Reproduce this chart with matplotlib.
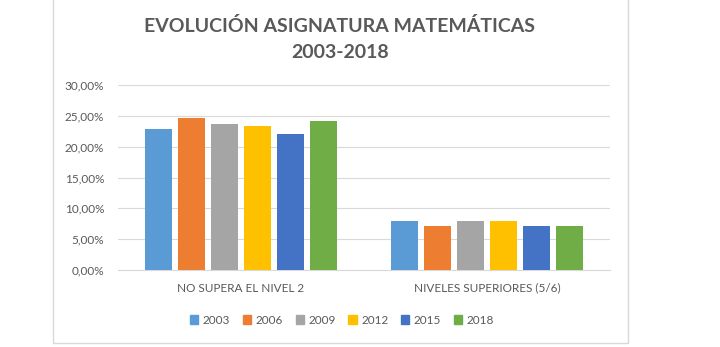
import numpy as np
import matplotlib.pyplot as plt
from matplotlib.patches import Rectangle
from matplotlib.ticker import FuncFormatter

categories = ['NO SUPERA EL NIVEL 2', 'NIVELES SUPERIORES (5/6)']
years = ['2003', '2006', '2009', '2012', '2015', '2018']
values = [
    [22.9, 7.9],
    [24.6, 7.2],
    [23.7, 7.9],
    [23.4, 7.9],
    [22.1, 7.2],
    [24.1, 7.2],
]
colors = ['#5B9BD5', '#ED7D31', '#A5A5A5', '#FFC000', '#4472C4', '#70AD47']

plt.rcParams['font.family'] = ['Lato', 'DejaVu Sans']
text_color = '#595959'

fig = plt.figure(figsize=(7.2, 3.47), dpi=100)
ax = fig.add_axes([118 / 720, 1 - 270 / 347, 492 / 720, 185 / 347])

# chart frame
fig.patches.append(Rectangle((53 / 720, 1 - 343 / 347), 575 / 720, 343 / 347 + 0.05,
                             transform=fig.transFigure, fill=False,
                             edgecolor='#D9D9D9', linewidth=1.0))

x = np.arange(len(categories))
step = 0.134
width = 0.109
for i, (year, vals) in enumerate(zip(years, values)):
    ax.bar(x + (i - 2.5) * step, vals, width, color=colors[i], label=year, zorder=3)

ax.set_xlim(-0.5, 1.5)
ax.set_ylim(0, 30)
ax.set_yticks(np.arange(0, 31, 5))
ax.yaxis.set_major_formatter(FuncFormatter(lambda v, p: f'{v:.2f}%'.replace('.', ',')))
ax.grid(axis='y', color='#D9D9D9', linewidth=0.8, zorder=0)
ax.set_xticks(x)
ax.set_xticklabels(categories)
ax.tick_params(axis='both', length=0, labelsize=8.5, colors=text_color)
ax.tick_params(axis='x', pad=9)
ax.tick_params(axis='y', pad=10)
for s in ['top', 'right', 'left']:
    ax.spines[s].set_visible(False)
ax.spines['bottom'].set_color('#D9D9D9')

fig.text(340 / 720, 1 - 26 / 347, 'EVOLUCIÓN ASIGNATURA MATEMÁTICAS', ha='center', va='center',
         fontsize=14, fontweight='bold', color=text_color)
fig.text(340 / 720, 1 - 52 / 347, '2003-2018', ha='center', va='center',
         fontsize=14, fontweight='bold', color=text_color)

handles = [Rectangle((0, 0), 1, 1, color=c) for c in colors]
fig.legend(handles, years, loc='center', bbox_to_anchor=(342 / 720, 1 - 320 / 347), ncol=6,
           frameon=False, fontsize=8.5, labelcolor=text_color,
           handlelength=0.7, handleheight=0.7, handletextpad=0.4, columnspacing=1.05)

fig.savefig('out.png', dpi=100, facecolor='white')
